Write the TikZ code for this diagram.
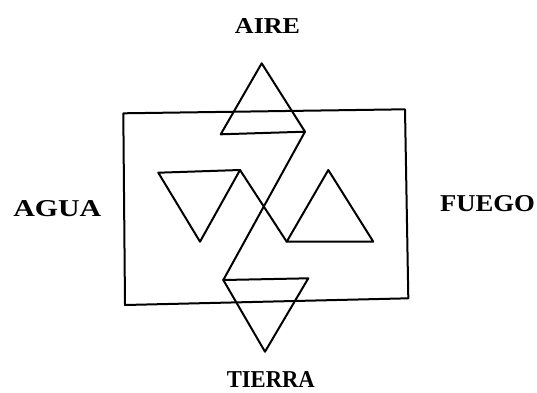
\documentclass[tikz,border=0pt]{standalone}
\usepackage{fontspec}
\setmainfont{Liberation Serif}
\begin{document}
\begin{tikzpicture}[x=1pt,y=-1pt,
  fig/.style={line width=2pt,line join=round,line cap=round},
  lbl/.style={inner sep=0pt,anchor=center}]
\useasboundingbox (0,0) rectangle (537,392);
% frame
\coordinate (r1) at (123.3,113.3);
\coordinate (r2) at (405,109.3);
\coordinate (r3) at (408.3,298.3);
\coordinate (r4) at (125,305);
\draw[fig] (r1) -- (r2) -- (r3) -- (r4) -- cycle;
% top triangle + diagonal + bottom triangle
\coordinate (ta) at (261.7,63.3);
\coordinate (tl) at (220.7,134.3);
\coordinate (tr) at (305,131.7);
\coordinate (bl) at (223.3,280);
\coordinate (br) at (308.3,278.3);
\coordinate (ba) at (265,351.7);
\draw[fig] (tl) -- (ta) -- (tr) -- cycle;
\draw[fig] (tr) -- (bl);
\draw[fig] (bl) -- (br) -- (ba) -- cycle;
% left triangle + diagonal + right triangle
\coordinate (ll) at (158.3,172.7);
\coordinate (lr) at (240,170);
\coordinate (la) at (200,241.7);
\coordinate (rl) at (286.7,241.7);
\coordinate (ra) at (328.3,170);
\coordinate (rr) at (373.3,241.7);
\draw[fig] (ll) -- (lr) -- (la) -- cycle;
\draw[fig] (lr) -- (rl);
\draw[fig] (rl) -- (ra) -- (rr) -- cycle;
% labels
\node[lbl] (aire) at (267.5,25.5) {\resizebox{65pt}{15pt}{\bfseries AIRE}};
\node[lbl] (agua) at (57.3,208.3) {\resizebox{88pt}{16pt}{\bfseries AGUA}};
\node[lbl] (fuego) at (487.5,203.3) {\resizebox{95pt}{16pt}{\bfseries FUEGO}};
\node[lbl] (tierra) at (270.8,379.5) {\resizebox{88pt}{16pt}{\bfseries TIERRA}};
\end{tikzpicture}
\end{document}
